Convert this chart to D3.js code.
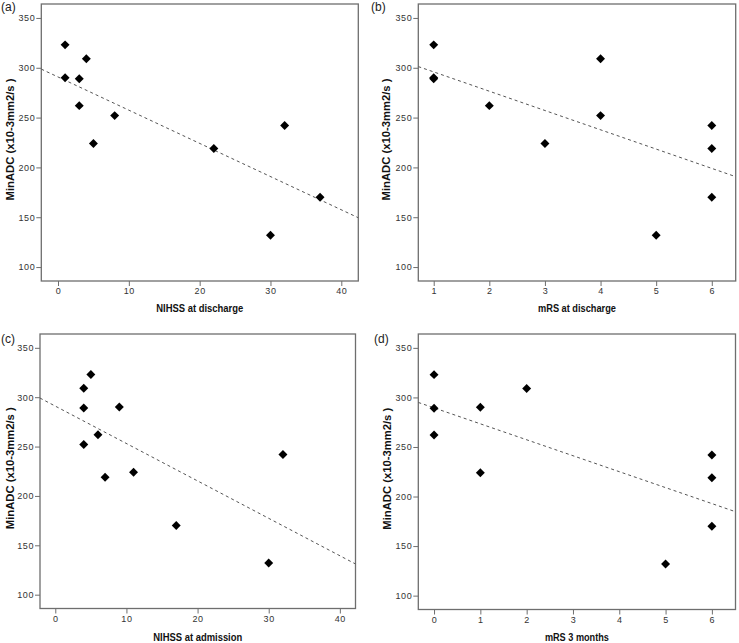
<!DOCTYPE html>
<html>
<head>
<meta charset="utf-8">
<script src="https://cdnjs.cloudflare.com/ajax/libs/d3/7.8.5/d3.min.js"></script>
<style>
  html, body { margin: 0; padding: 0; background: #fff; }
  svg { display: block; }
</style>
</head>
<body>
<svg id="chart" width="739" height="643"></svg>
<script>
// ---- Data (one entry per patient; null = not plotted) ----
const minADC          = [323, 309, 290, 289, 262, 252, 224, 219, 242, 170, 132];
const nihssDischarge  = [1,   4,   1,   3,   3,   8,   5,   22,  32,  37,  30];
const mrsDischarge    = [1,   4,   1,   1,   2,   4,   3,   6,   6,   6,   5];
const nihssAdmission  = [5,   4,   9,   4,   6,   4,   11,  7,   32,  17,  30];
const mrs3Months      = [0,   2,   1,   0,   0,   null, 1, 6,   6,   6,   5];

const yTicks = [100, 150, 200, 250, 300, 350];
const nihssTicks = [0, 10, 20, 30, 40];
const mrsDischargeTicks = [1, 2, 3, 4, 5, 6];
const mrs3Ticks = [0, 1, 2, 3, 4, 5, 6];

const yTitle = "MinADC (x10-3mm2/s )";

const panels = [
  { tag: "(a)", xs: nihssDischarge, xTicks: nihssTicks, xTitle: "NIHSS at discharge",
    xDomain: [-2.36, 42.4], frame: {l: 41.3, t: 4, r: 358.3, b: 281}, tagPos: [1, 11], yTitleX: 13.5, xTitleY: 311.5, xTitleW: 87 },
  { tag: "(b)", xs: mrsDischarge, xTicks: mrsDischargeTicks, xTitle: "mRS at discharge",
    xDomain: [0.723, 6.43], frame: {l: 418.3, t: 4, r: 735.7, b: 281}, tagPos: [371, 11], yTitleX: 389.5, xTitleY: 311.5, xTitleW: 78 },
  { tag: "(c)", xs: nihssAdmission, xTicks: nihssTicks, xTitle: "NIHSS at admission",
    xDomain: [-2.15, 42.2], frame: {l: 40, t: 334, r: 355.5, b: 608.5}, tagPos: [1, 343], yTitleX: 13.5, xTitleY: 640.5, xTitleW: 89 },
  { tag: "(d)", xs: mrs3Months, xTicks: mrs3Ticks, xTitle: "mRS 3 months",
    xDomain: [-0.34, 6.51], frame: {l: 418.3, t: 334, r: 735.5, b: 609.5}, tagPos: [374, 343], yTitleX: 391, xTitleY: 640.5, xTitleW: 64 }
];

const svg = d3.select("#chart");
const frameColor = "#6e6e6e";
const tickFont = "'Liberation Sans', Arial, sans-serif";

panels.forEach((p, i) => {
  const f = p.frame;
  const x = d3.scaleLinear().domain(p.xDomain).range([f.l, f.r]);
  const y = d3.scaleLinear().domain([86, 364]).range([f.b, f.t]);
  const g = svg.append("g");

  // clip for regression line
  const clipId = "clip" + i;
  svg.append("clipPath").attr("id", clipId)
    .append("rect").attr("x", f.l).attr("y", f.t).attr("width", f.r - f.l).attr("height", f.b - f.t);

  // axes
  const xAxis = d3.axisBottom(x).tickValues(p.xTicks).tickSize(5).tickPadding(2).tickFormat(d3.format("d"));
  const yAxis = d3.axisLeft(y).tickValues(yTicks).tickSize(5).tickPadding(1).tickFormat(d3.format("d"));
  const gx = g.append("g").attr("transform", `translate(0,${f.b})`).call(xAxis);
  const gy = g.append("g").attr("transform", `translate(${f.l},0)`).call(yAxis);
  [gx, gy].forEach(ax => {
    ax.select(".domain").remove();
    ax.selectAll("line").attr("stroke", frameColor).attr("stroke-width", 1);
    ax.selectAll("text").attr("fill", "#333").style("font-family", tickFont)
      .style("font-size", "9px").style("letter-spacing", "0.6px");
  });

  // frame
  g.append("rect").attr("x", f.l).attr("y", f.t).attr("width", f.r - f.l).attr("height", f.b - f.t)
    .attr("fill", "none").attr("stroke", frameColor).attr("stroke-width", 1.3);

  // points
  const pts = p.xs.map((xv, k) => ({x: xv, y: minADC[k]})).filter(d => d.x !== null);

  // OLS regression line
  const mx = d3.mean(pts, d => d.x), my = d3.mean(pts, d => d.y);
  const sxy = d3.sum(pts, d => (d.x - mx) * (d.y - my));
  const sxx = d3.sum(pts, d => (d.x - mx) * (d.x - mx));
  const slope = sxy / sxx, intercept = my - slope * mx;
  const ends = p.xDomain.map(xv => [x(xv), y(intercept + slope * xv)]);
  g.append("path").attr("clip-path", `url(#${clipId})`)
    .attr("d", d3.line()(ends))
    .attr("stroke", "#555").attr("stroke-width", 1).attr("stroke-dasharray", "3,3").attr("fill", "none");

  const sym = d3.symbol().type(d3.symbolSquare).size(40);
  g.selectAll("path.pt").data(pts).enter().append("path").attr("class", "pt")
    .attr("d", sym)
    .attr("transform", d => `translate(${x(d.x)},${y(d.y)}) rotate(45)`)
    .attr("fill", "#000");

  // titles
  g.append("text").attr("x", (f.l + f.r) / 2).attr("y", p.xTitleY)
    .attr("text-anchor", "middle")
    .attr("textLength", p.xTitleW).attr("lengthAdjust", "spacingAndGlyphs")
    .style("font-family", tickFont).style("font-weight", "bold").style("font-size", "11.5px")
    .attr("fill", "#111").text(p.xTitle);

  g.append("text")
    .attr("transform", `translate(${p.yTitleX},${(f.t + f.b) / 2 - 3}) rotate(-90)`)
    .attr("text-anchor", "middle")
    .attr("textLength", 122).attr("lengthAdjust", "spacingAndGlyphs")
    .style("font-family", tickFont).style("font-weight", "bold").style("font-size", "11.5px")
    .attr("fill", "#111").text(yTitle);

  g.append("text").attr("x", p.tagPos[0]).attr("y", p.tagPos[1])
    .style("font-family", tickFont).style("font-size", "12px").attr("fill", "#222").text(p.tag);
});
</script>
</body>
</html>
